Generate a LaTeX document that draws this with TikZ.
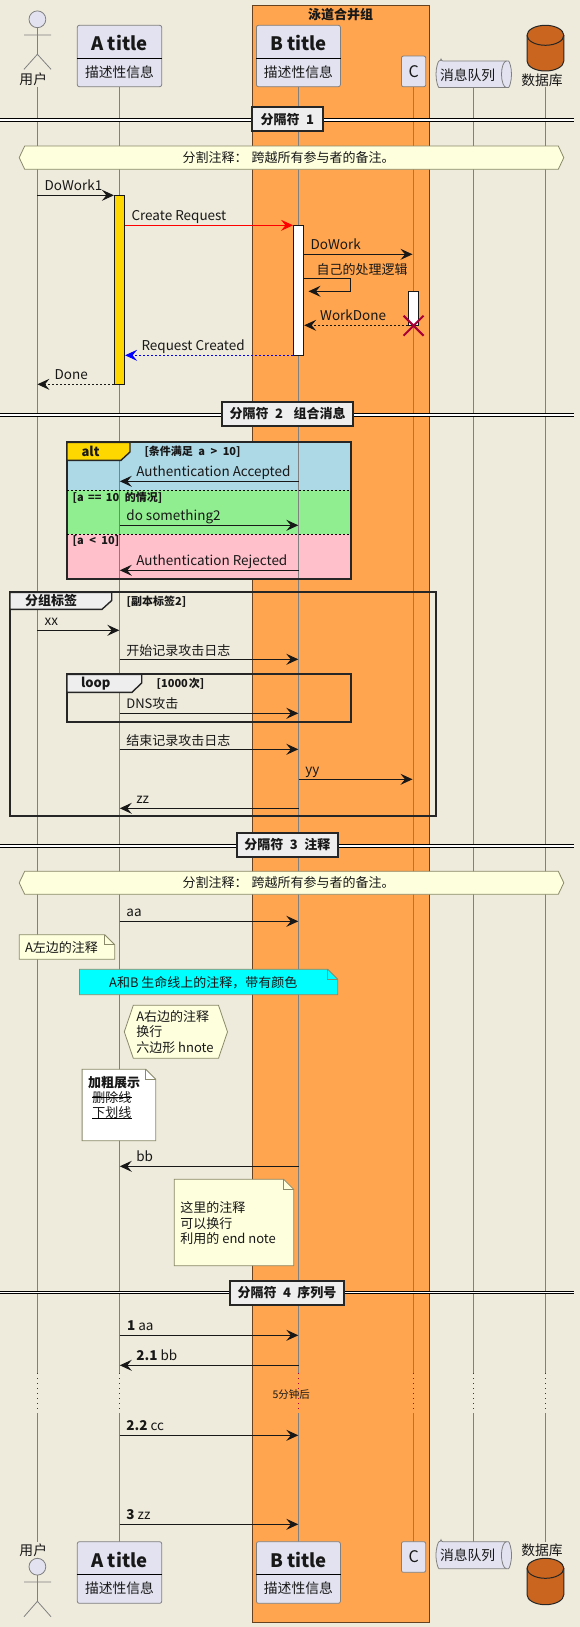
\documentclass[tikz,border=0pt]{standalone}
\usepackage{fontspec}
\setmainfont{Noto Sans CJK SC}
\usepackage{tikz}
\usetikzlibrary{arrows.meta, positioning}
\definecolor{mback}{HTML}{EEEBDC}
\definecolor{mswim}{HTML}{FFA54F}
\definecolor{mpart}{HTML}{E2E2F0}
\definecolor{mnote}{HTML}{FEFFDD}
\definecolor{mline}{HTML}{181818}
\definecolor{mlife}{HTML}{808080}
\definecolor{mnoteline}{HTML}{8A8A6A}
\definecolor{mgrey}{HTML}{EEEEEE}
\definecolor{mdead}{HTML}{A80036}
\definecolor{mdb}{HTML}{C9651E}
\definecolor{mgold}{HTML}{FFD700}
\definecolor{mcyan}{HTML}{00FFFF}
\definecolor{mred}{HTML}{FF0000}
\definecolor{mblue}{HTML}{0000FF}
\definecolor{maltblue}{HTML}{ADD8E6}
\definecolor{maltgreen}{HTML}{90EE90}
\definecolor{maltpink}{HTML}{FFC0CB}
\tikzset{
  txt/.style={inner sep=0pt, anchor=west, text=mline, font=\fontsize{13}{15.4}\selectfont, align=left},
  mlbl/.style={txt, anchor=base west, font=\fontsize{13.5}{15.4}\selectfont},
  zlbl/.style={txt, anchor=base west},
  ntxt/.style={txt, anchor=center, align=center},
  ctxt/.style={ntxt, font=\fontsize{13.8}{15.4}\selectfont},
  btxt/.style={ctxt, font=\fontsize{13}{15.4}\selectfont\bfseries},
  small/.style={txt, font=\fontsize{11}{12}\selectfont\bfseries},
  title/.style={ctxt, font=\fontsize{18.5}{22}\selectfont\bfseries},
  part/.style={draw=mlife, fill=mpart, rounded corners=2pt, inner sep=0pt, line width=0.8pt},
  life/.style={draw=mlife, line width=0.8pt},
  delay/.style={draw=mdead, line width=0.8pt, dash pattern=on 1pt off 4pt},
  msg/.style={-{Stealth[length=12pt, width=11pt, inset=4.5pt]}, mline, line width=1pt},
  rmsg/.style={msg, dash pattern=on 2pt off 2pt},
  act/.style={draw=mline, fill=white, inner sep=0pt, minimum width=10.4pt, line width=0.8pt},
  sepline/.style={draw=black, double=white, double distance=1.6pt, line width=1pt},
  sepbox/.style={btxt, draw=black!85, fill=mgrey, line width=2pt, minimum height=24pt},
  frame/.style={draw=black!85, line width=2pt},
  tab/.style={frame, line width=1.4pt, fill=mgrey},
  dsep/.style={draw=black, line width=0.8pt, dash pattern=on 2pt off 2pt},
  unote/.style={draw=mnoteline, fill=mnote, line width=0.8pt},
}
\newcommand{\foldnote}[5][unote]{%
  \draw[#1] (#2,#3) -- ({#4-10},#3) -- (#4,{#3+10}) -- (#4,#5) -- (#2,#5) -- cycle;
  \draw[draw=mnoteline, line width=0.8pt] ({#4-10},#3) -- ({#4-10},{#3+10}) -- (#4,{#3+10});}
\newcommand{\hexnote}[5]{%
  \draw[unote] ({#1+#5},#2) -- ({#3-#5},#2) -- (#3,{(#2+#4)/2}) -- ({#3-#5},#4)
    -- ({#1+#5},#4) -- (#1,{(#2+#4)/2}) -- cycle;}
\begin{document}
\begin{tikzpicture}[x=1pt, y=-1pt]
  \useasboundingbox (0,0) rectangle (580,1627);
  \fill[mback] (0,0) rectangle (580,1627);

  %% Swim lane group
  \node[draw=black!60!mswim, fill=mswim, line width=1pt, inner sep=0pt, minimum width=177pt, minimum height=1616pt]
    (lane) at (340.9,814) {};
  \node[btxt] (lanetitle) at (340.7,15) {泳道合并组};

  %% alt fills sit under the lifelines
  \fill[maltblue] (67,442.3) rectangle (350.7,490.3);
  \fill[maltgreen] (67,490.3) rectangle (350.7,534.3);
  \fill[maltpink] (67,534.3) rectangle (350.7,578.7);

  %% Lifelines
  \foreach \lname/\lx in {user/37.4, A/119.5, B/298.6, C/413.6, Q/473.6, D/545.3}{
    \coordinate (\lname t) at (\lx,87);
    \coordinate (\lname m) at (\lx,1373.3);
    \coordinate (\lname n) at (\lx,1413.3);
    \coordinate (\lname b) at (\lx,1542);
    \draw[life] (\lname t) -- (\lname m);
    \draw[delay] (\lname m) -- (\lname n);
    \draw[life] (\lname n) -- (\lname b);
  }

  %% Participants, top
  \draw[mlife, line width=0.8pt, fill=mpart] (37.4,19.3) circle (8.4);
  \draw[mlife, line width=0.8pt] (24,35) -- (51,35) (37.4,27.7) -- (37.4,54.3) -- (24,69.3) (37.4,54.3) -- (51,69.3);
  \node[ctxt] (userlbl) at (33.3,79.3) {用户};
  \node[part, minimum width=84.4pt, minimum height=61.4pt] (Abox) at (119.5,56) {};
  \draw[black, line width=0.8pt] (Abox.west |- 0,58.3) -- (Abox.east |- 0,58.3);
  \node[title] (Atitle) at (119.5,43) {A title};
  \node[ctxt] (Asub) at (119.5,72) {描述性信息};
  \node[part, minimum width=84pt, minimum height=61.4pt] (Bbox) at (298.4,56) {};
  \draw[black, line width=0.8pt] (Bbox.west |- 0,58.3) -- (Bbox.east |- 0,58.3);
  \node[title] (Btitle) at (298.4,43) {B title};
  \node[ctxt] (Bsub) at (298.4,72) {描述性信息};
  \node[part, ctxt, font=\fontsize{16}{18}\selectfont, minimum width=24.4pt, minimum height=30.7pt] (Cbox) at (413.6,71.4) {C};
  \draw[part] (441,61) -- (506.5,61) arc[start angle=90, end angle=-90, x radius=5, y radius=-13.3]
    -- (441,87.6) arc[start angle=-90, end angle=-270, x radius=5, y radius=-13.3] -- cycle;
  \draw[mlife, line width=0.8pt] (506.5,61) arc[start angle=90, end angle=270, x radius=5, y radius=-13.3];
  \node[ctxt] (Qlbl) at (467.6,75) {消息队列};
  \draw[draw=black!85, fill=mdb, line width=1pt] (527,35.3) arc[start angle=180, end angle=0, x radius=18.4, y radius=-10]
    -- (563.8,61) arc[start angle=0, end angle=-180, x radius=18.4, y radius=-10] -- cycle;
  \draw[draw=black!85, line width=1pt] (527,35.3) arc[start angle=180, end angle=360, x radius=18.4, y radius=-10];
  \node[ctxt] (Dlbl) at (542,80) {数据库};

  %% Separator 1
  \coordinate (s1a) at (0,120); \coordinate (s1b) at (574,120);
  \draw[sepline] (s1a) -- (s1b);
  \node[sepbox, minimum width=71.4pt] (sep1) at (287.3,119.5) {分隔符\hspace{0.5em}1};
  \hexnote{19.2}{146}{563.8}{169.3}{5.5}
  \node[ntxt] (over1) at (288.6,158) {分割注释：\hspace{0.3em}跨越所有参与者的备注。};

  %% Activations
  \node[act, fill=mgold, minimum height=189.3pt] (actA) at (119.5,289.7) {};
  \node[act, minimum height=130pt] (actB) at (298.6,290.3) {};
  \node[act, minimum height=34pt] (actC) at (413.6,308.3) {};

  %% First messages
  \coordinate (m1a) at (37.4,195.3); \coordinate (m1b) at (actA.west |- m1a);
  \draw[msg] (m1a) -- (m1b);
  \node[mlbl] (m1) at (44.4,190.3) {DoWork1};
  \coordinate (m2a) at (actA.east |- 0,225.3); \coordinate (m2b) at (actB.west |- m2a);
  \draw[msg, mred] (m2a) -- (m2b);
  \node[mlbl] (m2) at (131.3,220.3) {Create Request};
  \coordinate (m3a) at (actB.east |- 0,254.3); \coordinate (m3b) at (412.5,254.3);
  \draw[msg] (m3a) -- (m3b);
  \node[mlbl] (m3) at (310.4,249.3) {DoWork};
  \coordinate (m4a) at (actB.east |- 0,278.3); \coordinate (m4b) at (350.4,278.3);
  \coordinate (m4c) at (350.4,291.3); \coordinate (m4d) at (308.5,291.3);
  \draw[msg] (m4a) -- (m4b) -- (m4c) -- (m4d);
  \node[zlbl] (m4) at (316.3,274.3) {自己的处理逻辑};
  \coordinate (m5a) at (actC.west |- 0,325.3); \coordinate (m5b) at (actB.east |- m5a);
  \draw[rmsg] (m5a) -- (m5b);
  \node[mlbl] (m5) at (320,320.3) {WorkDone};
  \draw[mdead, line width=2pt] (403.6,315.7) -- (423.6,335.7) (403.6,335.7) -- (423.6,315.7);
  \coordinate (m6a) at (actB.west |- 0,355.3); \coordinate (m6b) at (actA.east |- m6a);
  \draw[rmsg, mblue] (m6a) -- (m6b);
  \node[mlbl] (m6) at (141.3,350.3) {Request Created};
  \coordinate (m7a) at (actA.west |- 0,384.3); \coordinate (m7b) at (37.4,384.3);
  \draw[rmsg] (m7a) -- (m7b);
  \node[mlbl] (m7) at (54.4,379.3) {Done};

  %% Separator 2
  \coordinate (s2a) at (0,415.2); \coordinate (s2b) at (574,415.2);
  \draw[sepline] (s2a) -- (s2b);
  \node[sepbox, minimum width=131.3pt] (sep2) at (287.6,414) {分隔符\hspace{0.5em}2\hspace{0.8em}组合消息};

  %% alt frame
  \draw[frame] (67,442.3) rectangle (350.7,578.7);
  \draw[tab, fill=mgold] (67,442.3) -- (130,442.3) -- (130,452) -- (121,460.3) -- (67,460.3) -- cycle;
  \node[btxt] (alttag) at (90.6,451.3) {alt};
  \node[small] (altcond) at (144.3,452) {[条件满足\hspace{0.5em}a\hspace{0.5em}>\hspace{0.5em}10]};
  \draw[dsep] (67,490.3) -- (350.7,490.3);
  \draw[dsep] (67,534.3) -- (350.7,534.3);
  \node[small] (altc2) at (72.5,497.3) {[a\hspace{0.4em}==\hspace{0.4em}10\hspace{0.5em}的情况]};
  \node[small] (altc3) at (72.5,541.3) {[a\hspace{0.5em}<\hspace{0.5em}10]};
  \coordinate (a1a) at (298.6,481.3); \coordinate (a1b) at (119.8,481.3);
  \draw[msg] (a1a) -- (a1b);
  \node[mlbl] (a1) at (136.1,476.3) {Authentication Accepted};
  \coordinate (a2a) at (119.5,525.3); \coordinate (a2b) at (298.3,525.3);
  \draw[msg] (a2a) -- (a2b);
  \node[mlbl] (a2) at (126.2,520.3) {do something2};
  \coordinate (a3a) at (298.6,570.3); \coordinate (a3b) at (119.8,570.3);
  \draw[msg] (a3a) -- (a3b);
  \node[mlbl] (a3) at (136.1,565.3) {Authentication Rejected};

  %% Group frame
  \draw[frame] (10,592.3) rectangle (435.8,816.3);
  \draw[tab] (10,592.3) -- (111.7,592.3) -- (111.7,600.5) -- (102,609.3) -- (10,609.3) -- cycle;
  \node[btxt] (grptag) at (51,601) {分组标签};
  \node[small] (grpsub) at (126.5,601.3) {[副本标签2]};
  \coordinate (g1a) at (37.4,630.3); \coordinate (g1b) at (119.3,630.3);
  \draw[msg] (g1a) -- (g1b);
  \node[mlbl] (g1) at (44.4,625.3) {xx};
  \coordinate (g2a) at (119.5,659.3); \coordinate (g2b) at (298.3,659.3);
  \draw[msg] (g2a) -- (g2b);
  \node[zlbl] (g2) at (126.2,655.3) {开始记录攻击日志};

  %% loop frame
  \draw[frame] (67,674.3) rectangle (350.7,721.7);
  \draw[tab] (67,674.3) -- (141.7,674.3) -- (141.7,683) -- (132,692.3) -- (67,692.3) -- cycle;
  \node[btxt] (looptag) at (95.8,684) {loop};
  \node[small] (loopcond) at (156.5,684) {[1000\hspace{0.1em}次]};
  \coordinate (l1a) at (119.5,713.3); \coordinate (l1b) at (298.3,713.3);
  \draw[msg] (l1a) -- (l1b);
  \node[zlbl] (l1) at (126.2,708.8) {DNS攻击};
  \coordinate (g3a) at (119.5,749.3); \coordinate (g3b) at (298.3,749.3);
  \draw[msg] (g3a) -- (g3b);
  \node[zlbl] (g3) at (126.2,745.3) {结束记录攻击日志};
  \coordinate (g4a) at (298.6,779.3); \coordinate (g4b) at (412.5,779.3);
  \draw[msg] (g4a) -- (g4b);
  \node[mlbl] (g4) at (305.2,774.3) {yy};
  \coordinate (g5a) at (298.6,808.3); \coordinate (g5b) at (119.8,808.3);
  \draw[msg] (g5a) -- (g5b);
  \node[mlbl] (g5) at (136.1,803.3) {zz};

  %% Separator 3
  \coordinate (s3a) at (0,846); \coordinate (s3b) at (574,846);
  \draw[sepline] (s3a) -- (s3b);
  \node[sepbox, minimum width=101pt] (sep3) at (287.3,845) {分隔符\hspace{0.5em}3\hspace{0.5em}注释};
  \hexnote{19.2}{871.3}{563.8}{894.3}{5.5}
  \node[ntxt] (over2) at (288.6,883) {分割注释：\hspace{0.3em}跨越所有参与者的备注。};

  %% Notes
  \coordinate (n0a) at (119.5,921.3); \coordinate (n0b) at (298.3,921.3);
  \draw[msg] (n0a) -- (n0b);
  \node[mlbl] (n0) at (126.2,916.3) {aa};
  \foldnote{19.2}{934.7}{114.7}{959.3}
  \node[txt] (n1) at (24.8,947.3) {A左边的注释};
  \foldnote[unote, fill=mcyan]{79.5}{969.3}{337.8}{994.7}
  \node[ntxt] (n2) at (203.3,982.7) {A和B 生命线上的注释，带有颜色};
  \hexnote{124.3}{1005.3}{227.5}{1058.3}{9}
  \node[txt] (n3) at (136.1,1032) {A右边的注释\\换行\\六边形 hnote};
  \foldnote[unote, fill=white]{82.1}{1069.3}{155.8}{1140.7}
  \node[txt, font=\fontsize{13}{15.4}\selectfont\bfseries] (n4a) at (88,1082.3) {加粗展示};
  \node[txt] (n4b) at (92.1,1097.7) {删除线};
  \node[txt] (n4c) at (92.1,1112.3) {下划线};
  \draw[black, line width=0.8pt] (n4b.west) -- (n4b.east);
  \draw[black, line width=0.8pt] (n4c.south west) -- (n4c.south east);
  \coordinate (n5a) at (298.6,1166.3); \coordinate (n5b) at (119.8,1166.3);
  \draw[msg] (n5a) -- (n5b);
  \node[mlbl] (n5) at (136.1,1161.3) {bb};
  \foldnote{174.3}{1179.3}{293.7}{1265.7}
  \node[txt] (n6) at (180.2,1223.3) {这里的注释\\可以换行\\利用的 end note};

  %% Separator 4
  \coordinate (s4a) at (0,1292.6); \coordinate (s4b) at (574,1292.6);
  \draw[sepline] (s4a) -- (s4b);
  \node[sepbox, minimum width=114pt] (sep4) at (287,1293) {分隔符\hspace{0.5em}4\hspace{0.5em}序列号};

  %% Numbered messages
  \coordinate (k1a) at (119.5,1335.3); \coordinate (k1b) at (298.3,1335.3);
  \draw[msg] (k1a) -- (k1b);
  \node[mlbl] (k1) at (126.9,1330.3) {\textbf{1} aa};
  \coordinate (k2a) at (298.6,1365.3); \coordinate (k2b) at (119.8,1365.3);
  \draw[msg] (k2a) -- (k2b);
  \node[mlbl] (k2) at (136.1,1360.3) {\textbf{2.1} bb};
  \node[ctxt, font=\fontsize{10.5}{12}\selectfont] (wait) at (291.3,1394.3) {5分钟后};
  \coordinate (k3a) at (119.5,1435.3); \coordinate (k3b) at (298.3,1435.3);
  \draw[msg] (k3a) -- (k3b);
  \node[mlbl] (k3) at (126.2,1430.3) {\textbf{2.2} cc};
  \coordinate (k4a) at (119.5,1524.3); \coordinate (k4b) at (298.3,1524.3);
  \draw[msg] (k4a) -- (k4b);
  \node[mlbl] (k4) at (126.2,1519.3) {\textbf{3} zz};

  %% Participants, bottom
  \node[ctxt] (userlbl2) at (33.3,1550) {用户};
  \draw[mlife, line width=0.8pt, fill=mpart] (37.4,1566.7) circle (8.4);
  \draw[mlife, line width=0.8pt] (24,1582) -- (51,1582) (37.4,1575.1) -- (37.4,1601.3) -- (24,1616.7) (37.4,1601.3) -- (51,1616.7);
  \node[part, minimum width=84.4pt, minimum height=61.6pt] (Abox2) at (119.5,1572.5) {};
  \draw[black, line width=0.8pt] (Abox2.west |- 0,1574.3) -- (Abox2.east |- 0,1574.3);
  \node[title] (Atitle2) at (119.5,1560) {A title};
  \node[ctxt] (Asub2) at (119.5,1588) {描述性信息};
  \node[part, minimum width=84pt, minimum height=61.6pt] (Bbox2) at (298.4,1572.5) {};
  \draw[black, line width=0.8pt] (Bbox2.west |- 0,1574.3) -- (Bbox2.east |- 0,1574.3);
  \node[title] (Btitle2) at (298.4,1560) {B title};
  \node[ctxt] (Bsub2) at (298.4,1588) {描述性信息};
  \node[part, ctxt, font=\fontsize{16}{18}\selectfont, minimum width=24.4pt, minimum height=30.6pt] (Cbox2) at (413.6,1557) {C};
  \draw[part] (441,1541.7) -- (506.5,1541.7) arc[start angle=90, end angle=-90, x radius=5, y radius=-13.5]
    -- (441,1568.7) arc[start angle=-90, end angle=-270, x radius=5, y radius=-13.5] -- cycle;
  \draw[mlife, line width=0.8pt] (506.5,1541.7) arc[start angle=90, end angle=270, x radius=5, y radius=-13.5];
  \node[ctxt] (Qlbl2) at (467.6,1555) {消息队列};
  \node[ctxt] (Dlbl2) at (542,1550) {数据库};
  \draw[draw=black!85, fill=mdb, line width=1pt] (527,1568.3) arc[start angle=180, end angle=0, x radius=18.4, y radius=-10]
    -- (563.8,1594.7) arc[start angle=0, end angle=-180, x radius=18.4, y radius=-10] -- cycle;
  \draw[draw=black!85, line width=1pt] (527,1568.3) arc[start angle=180, end angle=360, x radius=18.4, y radius=-10];

\end{tikzpicture}
\end{document}
